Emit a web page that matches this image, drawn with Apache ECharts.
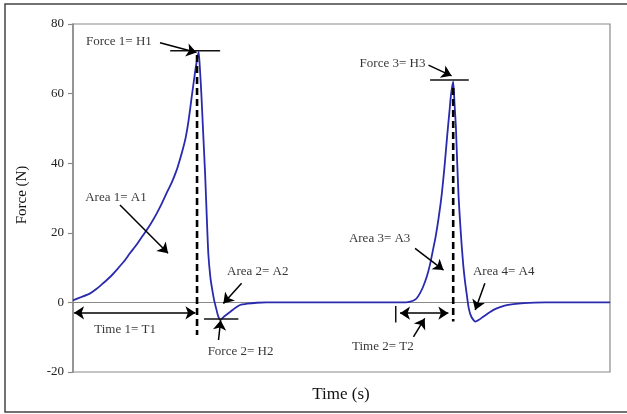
<!DOCTYPE html>
<html><head><meta charset="utf-8">
<script src="https://cdn.jsdelivr.net/npm/echarts@6/dist/echarts.min.js"></script>
<style>html,body{margin:0;padding:0;background:#fff}#c{width:627px;height:414px}</style>
</head><body><div id="c"></div>
<script>
// ---- data ----
const time = [0,1.5,3.2,4.4,5.6,6.9,8.1,9.4,10.6,11.9,13.1,14.4,15.6,16.5,17.4,18.4,19.3,19.9,20.5,21.0,21.5,22.1,22.7,23.1,23.4,
  23.6,23.9,24.2,24.6,24.9,25.2,25.6,26.0,26.3,26.7,27.0,27.4,28.2,29.3,30.2,31.1,32.5,34.2,36,
  62,62.8,63.5,64,64.6,65.2,65.9,66.5,67.0,67.5,68.1,68.7,69.2,69.7,70.1,70.4,70.8,
  71.05,71.3,71.55,71.8,72.1,72.4,72.7,73.0,73.3,73.7,74.2,74.9,75.6,76.4,77.6,78.9,80.4,82,84,86,88,100];
const force = [0.6,1.5,2.6,3.9,5.5,7.3,9.3,11.6,14.1,16.7,19.4,22.4,25.6,28.3,31.3,34.5,38.0,41.0,44.3,47.5,52.0,59.0,65.8,69.8,72.0,
  68,60,50,37,25,14,7,3,0.5,-2,-3.8,-5.0,-4.0,-2.7,-1.6,-0.75,-0.35,-0.1,0,
  0,0.2,0.6,1.2,2.6,4.5,7.5,11.0,14.8,18.6,24.4,31.5,39.3,48.2,54.8,59.8,63.4,
  57,50.5,40,30.5,22.7,16,10.3,6,2.6,-1.7,-4.2,-5.5,-5.0,-4.1,-2.8,-1.7,-0.9,-0.5,-0.2,-0.05,0,0];
const yTicks = [-20,0,20,40,60,80];
const xTitle = 'Time (s)';
const yTitle = 'Force (N)';

// annotations (data coordinates)
const dashedLines = [
  [[23.1,71.1],[23.1,-9.4]],
  [[70.8,61.6],[70.8,-5.5]]
];
const capLines = [
  [[18.1,72.3],[27.4,72.3]],
  [[24.4,-4.8],[30.8,-4.8]],
  [[66.5,63.9],[73.7,63.9]],
  [[60.1,-1.0],[60.1,-5.8]]
];
const singleArrows = [
  [[16.2,74.6],[23.0,71.8]],
  [[8.75,28.0],[17.7,14.1]],
  [[31.4,5.5],[28.0,-0.3]],
  [[27.1,-10.8],[27.5,-5.1]],
  [[66.2,68.2],[70.5,65.1]],
  [[63.7,15.5],[69.0,9.3]],
  [[76.7,5.5],[74.9,-2.2]],
  [[63.4,-9.9],[65.5,-4.6]]
];
const doubleArrows = [
  [[0.2,-3.0],[22.8,-3.0]],
  [[60.9,-3.1],[69.9,-3.1]]
];
const labelTexts = ['Force 1= H1','Area 1= A1','Time 1= T1','Area 2= A2','Force 2= H2','Force 3= H3','Area 3= A3','Area 4= A4','Time 2= T2'];
const labelPos = [[8.55,74.9],[8.0,30.0],[9.7,-7.9],[34.4,8.8],[31.2,-14.2],[59.5,68.5],[57.1,18.2],[80.2,8.8],[57.7,-12.7]];

// ---- chart ----
const FONT = 'Liberation Serif';
const chart = echarts.init(document.getElementById('c'), null, {renderer:'canvas'});
const series = [];
series.push({
  type:'line', data: time.map((t,i)=>[t,force[i]]), showSymbol:false, symbol:'none',
  smooth:0.2,
  lineStyle:{color:'#2a2aae', width:1.8}, z:5
});
dashedLines.forEach(seg=>series.push({
  type:'line', data:seg, symbol:'none', lineStyle:{color:'#000', width:2.6, type:[7,4]}, z:6
}));
capLines.forEach(seg=>series.push({
  type:'line', data:seg, symbol:'none', lineStyle:{color:'#111', width:1.5}, z:6
}));
series.push({
  type:'lines', coordinateSystem:'cartesian2d', symbol:['none','arrow'], symbolSize:10,
  lineStyle:{color:'#000', width:1.5, opacity:1, curveness:0},
  data: singleArrows.map(s=>({coords:s})), z:7
});
series.push({
  type:'lines', coordinateSystem:'cartesian2d', symbol:['arrow','arrow'], symbolSize:10,
  lineStyle:{color:'#000', width:1.5, opacity:1, curveness:0},
  data: doubleArrows.map(s=>({coords:s})), z:7
});
series.push({
  type:'scatter', symbolSize:1, itemStyle:{color:'rgba(0,0,0,0)'},
  data: labelTexts.map((n,i)=>({name:n, value:labelPos[i]})),
  label:{show:true, position:'inside', formatter:'{b}', color:'#000', fontFamily:FONT, fontSize:13},
  z:8
});

chart.setOption({
  animation:false,
  backgroundColor:'#fff',
  grid:{left:73, top:24, right:17, bottom:42, show:true, borderColor:'#8a8a8a', borderWidth:1.2},
  xAxis:{type:'value', min:0, max:100, axisLabel:{show:false}, axisTick:{show:false}, splitLine:{show:false},
    axisLine:{show:true, onZero:true, lineStyle:{color:'#8a8a8a', width:1.2}}},
  yAxis:{type:'value', min:yTicks[0], max:yTicks[yTicks.length-1], interval:20, splitLine:{show:false},
    axisLine:{show:true, lineStyle:{color:'#8a8a8a', width:1.5}},
    axisTick:{show:true, length:5, lineStyle:{color:'#8a8a8a', width:1.2}},
    axisLabel:{color:'#222', fontFamily:FONT, fontSize:13, margin:9}},
  graphic:[
    {type:'rect', shape:{x:5, y:4, width:640, height:408}, style:{fill:'none', stroke:'#444', lineWidth:1.5}, silent:true},
    {type:'text', x:22, y:195, rotation:Math.PI/2, style:{text:yTitle, font:'15px "Liberation Serif"', fill:'#111', textAlign:'center', textVerticalAlign:'middle'}},
    {type:'text', x:341, y:395, style:{text:xTitle, font:'17px "Liberation Serif"', fill:'#111', textAlign:'center', textVerticalAlign:'middle'}}
  ],
  series: series
});
</script></body></html>
